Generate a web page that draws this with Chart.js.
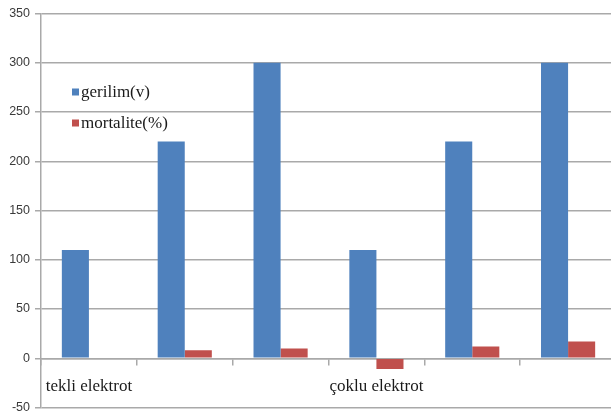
<!DOCTYPE html>
<html>
<head>
<meta charset="utf-8">
<script src="https://cdn.jsdelivr.net/npm/chart.js@4/dist/chart.umd.min.js"></script>
<style>
  html, body { margin: 0; padding: 0; background: #fff; overflow: hidden; }
  #wrap { width: 616px; height: 417px; }
</style>
</head>
<body>
<div id="wrap"><canvas id="c" width="616" height="417"></canvas></div>
<script>
// Categories along the x axis (group label shown under the first bar of each group)
const categories = ['tekli elektrot', '', '', 'çoklu elektrot', '', ''];
// Series values
const gerilim = [110, 220, 300, 110, 220, 300];
const mortalite = [0, 8, 10, -11, 12, 17];
// Value axis ticks
const yTicks = [-50, 0, 50, 100, 150, 200, 250, 300, 350];

const gridColor = '#a9a9a9';
const serifFamily = 'Liberation Serif';

// Legend drawn inside the plot area, near its upper-left corner
const insideLegend = {
  id: 'insideLegend',
  afterDraw(chart) {
    const ctx = chart.ctx;
    const x0 = 72, rows = [92, 123];
    ctx.save();
    ctx.font = '17px "' + serifFamily + '"';
    ctx.textBaseline = 'middle';
    ctx.textAlign = 'left';
    chart.data.datasets.forEach((ds, i) => {
      const y = rows[i];
      ctx.fillStyle = ds.backgroundColor;
      ctx.fillRect(x0, y - 3.5, 7, 7);
      ctx.fillStyle = '#1a1a1a';
      ctx.fillText(ds.label, x0 + 9, y + 1);
    });
    ctx.restore();
  }
};

new Chart(document.getElementById('c'), {
  type: 'bar',
  data: {
    labels: categories,
    datasets: [
      { label: 'gerilim(v)', data: gerilim, backgroundColor: '#4F81BD' },
      { label: 'mortalite(%)', data: mortalite, backgroundColor: '#C0504D' }
    ]
  },
  options: {
    responsive: false,
    animation: false,
    devicePixelRatio: 1,
    layout: { padding: { top: 13.5, bottom: 9.5, left: 0, right: 0 } },
    datasets: { bar: { categoryPercentage: 0.565, barPercentage: 1.0 } },
    plugins: { legend: { display: false }, tooltip: { enabled: false } },
    scales: {
      x: {
        position: { y: 0 },
        offset: true,
        afterFit(scale) { scale.paddingLeft = 0; scale.paddingRight = 0; scale.paddingTop = 0; scale.paddingBottom = 0; },
        grid: { offset: true, drawOnChartArea: false, drawTicks: true, tickLength: 6, color: gridColor, lineWidth: 1.5 },
        border: { display: true, color: gridColor, width: 1.5 },
        ticks: {
          autoSkip: false, maxRotation: 0, minRotation: 0, padding: 12,
          color: '#1a1a1a', font: { family: serifFamily, size: 17 }
        }
      },
      y: {
        min: -50, max: 350,
        afterBuildTicks(scale) { scale.ticks = yTicks.map(v => ({ value: v })); },
        afterFit(scale) { scale.width = 41; scale.paddingTop = 0; scale.paddingBottom = 0; },
        grid: { color: gridColor, lineWidth: 1.5, tickLength: 6 },
        border: { display: true, color: gridColor, width: 1.5 },
        ticks: {
          padding: 5, color: '#3a3a3a',
          font: { family: 'Liberation Sans', size: 12.5 }
        }
      }
    }
  },
  plugins: [insideLegend]
});
</script>
</body>
</html>
